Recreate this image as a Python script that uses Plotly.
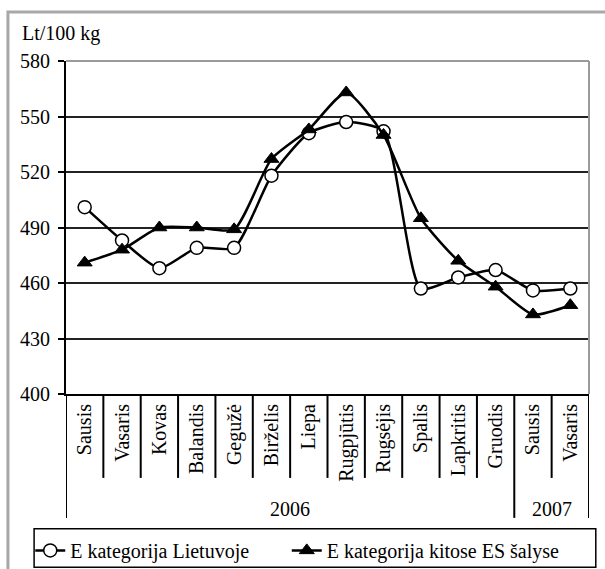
import plotly.graph_objects as go

# data
months = ['Sausis', 'Vasaris', 'Kovas', 'Balandis', 'Gegužė', 'Birželis', 'Liepa',
          'Rugpjūtis', 'Rugsėjis', 'Spalis', 'Lapkritis', 'Gruodis', 'Sausis', 'Vasaris']
years = ['2006'] * 12 + ['2007'] * 2
lietuvoje = [501, 483, 468, 479, 479, 518, 541, 547, 542, 457, 463, 467, 456, 457]
kitose_es = [471, 478, 490, 490, 489, 527, 543, 563, 540, 495, 472, 458, 443, 448]
y_ticks = [400, 430, 460, 490, 520, 550, 580]

FONT = 'Liberation Serif'
x = list(range(len(months)))

fig = go.Figure()
fig.add_trace(go.Scatter(
    x=x, y=lietuvoje, name='E kategorija Lietuvoje', mode='lines+markers', legend='legend',
    line=dict(color='black', width=2.5, shape='spline', smoothing=0.6),
    marker=dict(symbol='circle', size=13, color='white', line=dict(color='black', width=1.5))))
fig.add_trace(go.Scatter(
    x=x, y=kitose_es, name='E kategorija kitose ES šalyse', mode='lines+markers', legend='legend2',
    line=dict(color='black', width=2.5, shape='spline', smoothing=0.6),
    marker=dict(symbol='triangle-up', size=13, color='black', line=dict(color='black', width=1))))

shapes = []
# separators below the category axis
for i in range(len(months) + 1):
    boundary = i == 0 or i == len(months) or years[i] != years[i - 1]
    shapes.append(dict(type='line', xref='x', yref='paper', x0=i - 0.5, x1=i - 0.5,
                       y0=0, y1=-0.372 if boundary else -0.252,
                       line=dict(color='black', width=2)))
# gray top/right frame of the plot area
shapes.append(dict(type='line', xref='paper', yref='paper', x0=0, x1=1, y0=1, y1=1,
                   line=dict(color='#9a9a9a', width=2), layer='above'))
shapes.append(dict(type='line', xref='paper', yref='paper', x0=1, x1=1, y0=0, y1=1,
                   line=dict(color='#9a9a9a', width=2), layer='above'))
# legend box
shapes.append(dict(type='rect', xref='paper', yref='paper', x0=-0.061, x1=1.013, y0=-0.405, y1=-0.52,
                   line=dict(color='black', width=1.5)))
# outer gray border
shapes.append(dict(type='rect', xref='paper', yref='paper', x0=-0.111, x1=1.2, y0=-0.7, y1=1.147,
                   line=dict(color='#a8a8a8', width=3)))

annotations = [dict(text='Lt/100 kg', xref='paper', yref='paper', x=-0.088, y=1.084,
                    xanchor='left', yanchor='middle', showarrow=False,
                    font=dict(family=FONT, size=20, color='black'))]
for yr in dict.fromkeys(years):
    idx = [i for i, v in enumerate(years) if v == yr]
    annotations.append(dict(text=yr, xref='x', yref='paper', x=sum(idx) / len(idx), y=-0.345,
                            xanchor='center', yanchor='middle', showarrow=False,
                            font=dict(family=FONT, size=20, color='black')))

legend_style = dict(orientation='h', xref='container', yref='container', y=0.067,
                    xanchor='left', yanchor='top', bgcolor='rgba(0,0,0,0)',
                    font=dict(family=FONT, size=20, color='black'))
fig.update_layout(
    width=605, height=569,
    margin=dict(l=66, r=16, t=61, b=175, autoexpand=False),
    paper_bgcolor='white', plot_bgcolor='white',
    font=dict(family=FONT, size=20, color='black'),
    showlegend=True,
    legend=dict(x=0.05, **legend_style),
    legend2=dict(x=0.474, **legend_style),
    shapes=shapes,
    annotations=annotations,
)
fig.update_xaxes(range=[-0.5, len(months) - 0.5], tickvals=x, ticktext=months, tickangle=-90,
                 showgrid=False, showline=True, linecolor='black', linewidth=2,
                 ticks='', zeroline=False, fixedrange=True)
fig.update_yaxes(range=[400, 580], tickvals=y_ticks, showgrid=True, gridcolor='#222',
                 gridwidth=1.5, showline=True, linecolor='black', linewidth=2,
                 ticks='outside', ticklen=6, tickwidth=2, tickcolor='black', zeroline=False,
                 ticklabelstandoff=4)

# page body has a default 8px margin; drop it so the figure sits at the window origin
fig.write_html("out.html", config={'displayModeBar': False},
               post_script="document.body.style.margin='0';")
